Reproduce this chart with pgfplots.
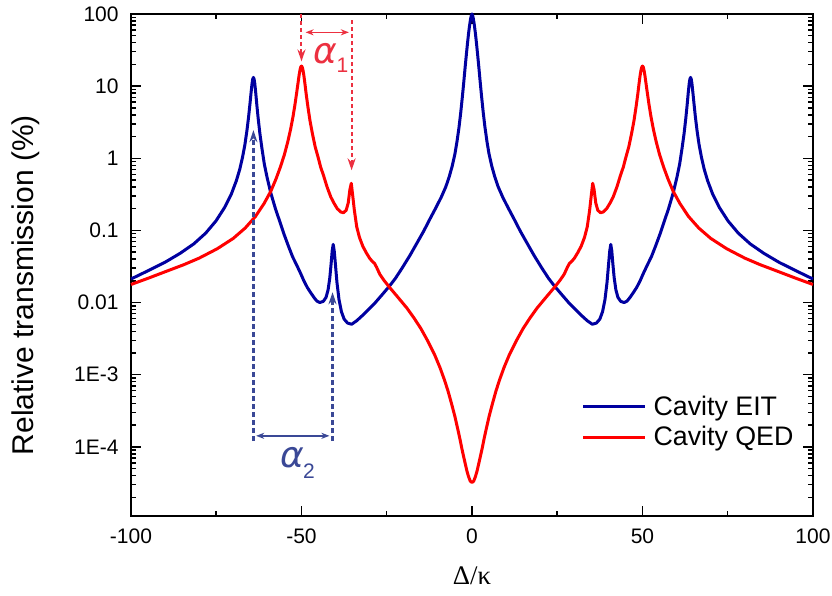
\documentclass[border=0pt]{standalone}
\usepackage{fontspec}
\setmainfont{Liberation Sans}
\newfontfamily\grk{Liberation Serif}
\newfontfamily\dejavu{DejaVu Sans}
\usepackage{pgfplots}
\pgfplotsset{compat=1.18}
\usetikzlibrary{arrows.meta}
\definecolor{eitblue}{RGB}{0,0,160}
\definecolor{qedred}{RGB}{255,0,0}
\definecolor{annred}{RGB}{236,48,64}
\definecolor{annblue}{RGB}{58,72,150}
\begin{document}
\begin{tikzpicture}
\begin{axis}[
  scale only axis, width=341pt, height=251pt,
  xmin=-100, xmax=100, ymode=log, ymin=1.1e-5, ymax=100,
  clip=false,
  xtick={-100,-50,0,50,100}, xticklabels={-100,-50,0,50,100},
  minor x tick num=1,
  ytick={1e-4,1e-3,0.01,0.1,1,10,100},
  yticklabels={1E-4,1E-3,0.01,0.1,1,10,100},
  minor ytick={2e-5,3e-5,4e-5,5e-5,6e-5,7e-5,8e-5,9e-5,
    2e-4,3e-4,4e-4,5e-4,6e-4,7e-4,8e-4,9e-4,
    2e-3,3e-3,4e-3,5e-3,6e-3,7e-3,8e-3,9e-3,
    0.02,0.03,0.04,0.05,0.06,0.07,0.08,0.09,
    0.2,0.3,0.4,0.5,0.6,0.7,0.8,0.9,
    2,3,4,5,6,7,8,9,20,30,40,50,60,70,80,90},
  tick label style={font=\fontsize{10.5}{12}\selectfont},
  yticklabel style={inner sep=0pt, xshift=-6pt},
  xticklabel style={inner sep=0pt, yshift=-6pt},
  major tick length=5pt, minor tick length=2.5pt,
  every tick/.style={black, line width=0.75pt},
  axis line style={line width=1pt},
  xlabel={{\grk Δ/κ}},
  ylabel={Relative transmission (\%)},
  xlabel style={font=\fontsize{13.4}{16}\selectfont, at={(axis description cs:0.5,-0.12)}, anchor=center},
  ylabel style={font=\fontsize{15}{18}\selectfont, at={(axis description cs:-0.155,0.46)}, anchor=center},
  legend style={draw=none, fill=none, at={(axis description cs:0.66,0.187)}, anchor=west,
    font=\fontsize{13.4}{16}\selectfont, row sep=4pt, inner sep=0pt,
    nodes={inner sep=0pt}, column sep=3.5pt},
  legend cell align=left,
  legend image code/.code={\draw[#1] (0pt,0pt) -- (31pt,0pt);},
]
\addplot[eitblue, line width=1.5pt, line join=round] coordinates {
(-100,0.0212) (-94.6,0.0282) (-90.1,0.036) (-85.6,0.0481) (-81.6,0.065) (-78.1,0.0916) (-75.1,0.135) (-72.6,0.206) (-70.6,0.317) (-69.1,0.489) (-68.1,0.705) (-67.3,1.03) (-66.6,1.54) (-66.0,2.42) (-65.5,3.8) (-65.1,5.76) (-64.8,8.0) (-64.5,10.9) (-64.3,12.5) (-64.1,13.2) (-63.9,12.5) (-63.7,10.9) (-63.4,7.9) (-63.1,5.5) (-62.7,3.56) (-62.2,2.2) (-61.6,1.37) (-60.9,0.83) (-60.1,0.545) (-59.0,0.33) (-57.6,0.197) (-56.3,0.13) (-55.1,0.088) (-53.8,0.060) (-52.6,0.043) (-51.4,0.033) (-50.2,0.025) (-49.3,0.020) (-48.3,0.0162) (-47.3,0.0137) (-46.3,0.0117) (-45.5,0.0105) (-44.6,0.0100) (-43.6,0.0104) (-42.8,0.0118) (-42.2,0.0150) (-41.7,0.022) (-41.3,0.035) (-41.0,0.052) (-40.7,0.064) (-40.4,0.052) (-40.1,0.036) (-39.6,0.019) (-39.0,0.011) (-38.3,0.0075) (-37.5,0.0059) (-36.5,0.0052) (-35.3,0.0050) (-33.8,0.0056) (-32.3,0.0065) (-30.5,0.0079) (-28.5,0.0098) (-26.5,0.0126) (-24.3,0.0167) (-22.5,0.0215) (-20.5,0.030) (-18.2,0.045) (-16.2,0.066) (-14.2,0.097) (-12.3,0.145) (-10.5,0.21) (-9.0,0.29) (-7.7,0.40) (-6.7,0.55) (-5.8,0.78) (-5.0,1.15) (-4.4,1.7) (-3.8,2.7) (-3.3,4.3) (-2.8,7.3) (-2.4,11.5) (-2.0,18.5) (-1.6,29) (-1.3,40) (-1.0,54) (-0.8,64) (-0.6,75) (-0.4,86) (-0.2,95)
(0,100)
(0.2,95) (0.4,86) (0.6,75) (0.8,64) (1.0,54) (1.3,40) (1.6,29) (2.0,18.5) (2.4,11.5) (2.8,7.3) (3.3,4.3) (3.8,2.7) (4.4,1.7) (5.0,1.15) (5.8,0.78) (6.7,0.55) (7.7,0.40) (9.0,0.29) (10.5,0.21) (12.3,0.145) (14.2,0.097) (16.2,0.066) (18.2,0.045) (20.5,0.030) (22.5,0.0215) (24.3,0.0167) (26.5,0.0126) (28.5,0.0098) (30.5,0.0079) (32.3,0.0065) (33.8,0.0056) (35.3,0.0050) (36.5,0.0052) (37.5,0.0059) (38.3,0.0075) (39.0,0.011) (39.6,0.019) (40.1,0.036) (40.4,0.052) (40.7,0.064) (41.0,0.052) (41.3,0.035) (41.7,0.022) (42.2,0.0150) (42.8,0.0118) (43.6,0.0104) (44.6,0.0100) (45.5,0.0105) (46.3,0.0117) (47.3,0.0137) (48.3,0.0162) (49.3,0.020) (50.2,0.025) (51.4,0.033) (52.6,0.043) (53.8,0.060) (55.1,0.088) (56.3,0.13) (57.6,0.197) (59.0,0.33) (60.1,0.545) (60.9,0.83) (61.6,1.37) (62.2,2.2) (62.7,3.56) (63.1,5.5) (63.4,7.9) (63.7,10.9) (63.9,12.5) (64.1,13.2) (64.3,12.5) (64.5,10.9) (64.8,8.0) (65.1,5.76) (65.5,3.8) (66.0,2.42) (66.6,1.54) (67.3,1.03) (68.1,0.705) (69.1,0.489) (70.6,0.317) (72.6,0.206) (75.1,0.135) (78.1,0.0916) (81.6,0.065) (85.6,0.0481) (90.1,0.036) (94.6,0.0282) (100,0.0212)
};
\addlegendentry{Cavity EIT}
\addplot[qedred, line width=1.5pt, line join=round] coordinates {
(-100,0.0178) (-95,0.0217) (-90,0.0267) (-84.5,0.0335) (-80,0.0413) (-74.7,0.0557) (-70,0.0776) (-66.5,0.108) (-63.5,0.156) (-61,0.235) (-59,0.349) (-57.5,0.514) (-56.2,0.754) (-55,1.13) (-54,1.71) (-53.2,2.52) (-52.5,3.75) (-51.9,5.61) (-51.4,8.2) (-51,11.2) (-50.7,14.2) (-50.4,17.1) (-50.2,18.5) (-50,19) (-49.8,18.4) (-49.6,17.0) (-49.3,14.0) (-49.0,10.9) (-48.6,7.6) (-48.1,5.1) (-47.5,3.3) (-46.8,2.2) (-46,1.45) (-45,0.98) (-44.4,0.76) (-43.5,0.57) (-42.5,0.40) (-41.4,0.29) (-40.5,0.24) (-39.5,0.20) (-38.5,0.18) (-37.7,0.176) (-36.9,0.19) (-36.3,0.24) (-35.8,0.37) (-35.4,0.45) (-35,0.31) (-34.5,0.19) (-33.8,0.112) (-33,0.080) (-32,0.060) (-31,0.049) (-30,0.041) (-29.2,0.037) (-28.6,0.035) (-28,0.031) (-27,0.0245) (-25.8,0.0203) (-24.3,0.0165) (-21.5,0.0115) (-19.1,0.0084) (-17,0.0061) (-15,0.00437) (-13,0.00295) (-11,0.00191) (-9.4,0.00126) (-8,0.000826) (-7,0.000587) (-6,0.000397) (-5,0.000262) (-4,0.000162) (-3.5,0.000126) (-3,0.000096) (-2.5,0.000075) (-2,0.000059) (-1.5,0.0000465) (-1,0.0000385) (-0.5,0.0000335)
(0,0.000032)
(0.5,0.0000335) (1,0.0000385) (1.5,0.0000465) (2,0.000059) (2.5,0.000075) (3,0.000096) (3.5,0.000126) (4,0.000162) (5,0.000262) (6,0.000397) (7,0.000587) (8,0.000826) (9.4,0.00126) (11,0.00191) (13,0.00295) (15,0.00437) (17,0.0061) (19.1,0.0084) (21.5,0.0115) (24.3,0.0165) (25.8,0.0203) (27,0.0245) (28,0.031) (28.6,0.035) (29.2,0.037) (30,0.041) (31,0.049) (32,0.060) (33,0.080) (33.8,0.112) (34.5,0.19) (35,0.31) (35.4,0.45) (35.8,0.37) (36.3,0.24) (36.9,0.19) (37.7,0.176) (38.5,0.18) (39.5,0.20) (40.5,0.24) (41.4,0.29) (42.5,0.40) (43.5,0.57) (44.4,0.76) (45,0.98) (46,1.45) (46.8,2.2) (47.5,3.3) (48.1,5.1) (48.6,7.6) (49.0,10.9) (49.3,14.0) (49.6,17.0) (49.8,18.4) (50,19) (50.2,18.5) (50.4,17.1) (50.7,14.2) (51,11.2) (51.4,8.2) (51.9,5.61) (52.5,3.75) (53.2,2.52) (54,1.71) (55,1.13) (56.2,0.754) (57.5,0.514) (59,0.349) (61,0.235) (63.5,0.156) (66.5,0.108) (70,0.0776) (74.7,0.0557) (80,0.0413) (84.5,0.0335) (90,0.0267) (95,0.0217) (100,0.0178)
};
\addlegendentry{Cavity QED}
% annotations
\draw[annred, line width=1pt, dash pattern=on 2pt off 1.5pt, -{Stealth[length=6pt,width=4pt,inset=2pt]}] (axis cs:-50,100) -- (axis cs:-50,22);
\draw[annred, line width=1pt, dash pattern=on 2pt off 1.5pt, -{Stealth[length=6pt,width=4pt,inset=2pt]}] (axis cs:-35.3,82) -- (axis cs:-35.3,0.68);
\draw[annred, line width=0.8pt, {Stealth[length=4pt,width=3pt,inset=1.2pt]}-{Stealth[length=4pt,width=3pt,inset=1.2pt]}] (axis cs:-48.8,55.7) -- (axis cs:-36.1,55.7);
\node[annred, inner sep=0pt, font=\fontsize{18}{22}\selectfont\dejavu\itshape] at (axis cs:-43,27.8) {α};
\node[annred, inner sep=0pt, font=\fontsize{10.5}{12}\selectfont] at (axis cs:-38.0,19.3) {1};
\draw[annblue, line width=1.2pt, dash pattern=on 2.5pt off 1.5pt, -{Stealth[length=6pt,width=4pt,inset=2pt]}] (axis cs:-64.1,1.2e-4) -- (axis cs:-64.1,2.45);
\draw[annblue, line width=1.2pt, dash pattern=on 2.5pt off 1.5pt, -{Stealth[length=6pt,width=4pt,inset=2pt]}] (axis cs:-40.9,1.2e-4) -- (axis cs:-40.9,0.0139);
\draw[annblue, line width=0.8pt, {Stealth[length=4pt,width=3pt,inset=1.2pt]}-{Stealth[length=4pt,width=3pt,inset=1.2pt]}] (axis cs:-63.3,1.42e-4) -- (axis cs:-41.8,1.42e-4);
\node[annblue, inner sep=0pt, font=\fontsize{18}{22}\selectfont\dejavu\itshape] at (axis cs:-52.6,7.0e-5) {α};
\node[annblue, inner sep=0pt, font=\fontsize{10.5}{12}\selectfont] at (axis cs:-47.8,4.64e-5) {2};
\coordinate (bbsw) at (rel axis cs:-0.1921,-0.1594);
\coordinate (bbne) at (rel axis cs:1.0279,1.0279);
\end{axis}
\path (bbsw) rectangle (bbne);
\end{tikzpicture}
\end{document}
